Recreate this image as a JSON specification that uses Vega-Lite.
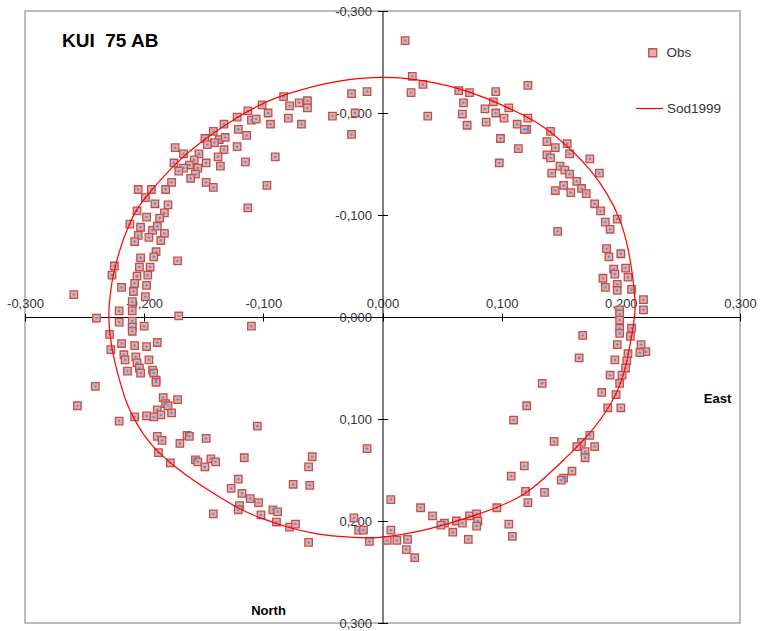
{
  "$schema": "https://vega.github.io/schema/vega-lite/v6.json",
  "width": 715,
  "height": 612,
  "autosize": {"type": "none"},
  "padding": {"left": 25, "top": 11, "right": 28, "bottom": 8},
  "background": "white",
  "title": {"text": "KUI \u00a075 AB", "anchor": "start", "frame": "group", "orient": "top", "offset": 0, "dx": 37, "dy": 61, "baseline": "alphabetic", "font": "Liberation Sans", "fontSize": 19, "fontWeight": "bold", "color": "#000000"},
  "config": {
    "view": {"stroke": "#a6a6a6", "strokeWidth": 1.5},
    "legend": {"labelFont": "Liberation Sans", "labelFontSize": 13.5, "labelColor": "#333333", "padding": 0, "labelLimit": 0}
  },
  "datasets": {
    "obs": [
      {"x":-0.026,"y":-0.219},{"x":-0.013,"y":-0.221},{"x":-0.042,"y":-0.197},{"x":-0.026,"y":-0.179},{"x":-0.023,"y":-0.200},{"x":-0.083,"y":-0.216},{"x":-0.078,"y":-0.207},{"x":-0.070,"y":-0.210},{"x":-0.063,"y":-0.212},{"x":-0.063,"y":-0.205},{"x":-0.079,"y":-0.195},{"x":-0.068,"y":-0.189},{"x":-0.101,"y":-0.208},{"x":-0.096,"y":-0.200},{"x":-0.094,"y":-0.189},{"x":-0.113,"y":-0.202},{"x":-0.110,"y":-0.193},{"x":-0.106,"y":-0.194},{"x":-0.114,"y":-0.178},{"x":-0.115,"y":-0.152},{"x":-0.090,"y":-0.157},{"x":-0.097,"y":-0.129},{"x":-0.113,"y":-0.107},
      {"x":-0.122,"y":-0.196},{"x":-0.121,"y":-0.184},{"x":-0.122,"y":-0.167},{"x":-0.133,"y":-0.189},{"x":-0.142,"y":-0.182},{"x":-0.149,"y":-0.175},{"x":-0.137,"y":-0.174},{"x":-0.132,"y":-0.176},{"x":-0.141,"y":-0.171},{"x":-0.133,"y":-0.164},{"x":-0.138,"y":-0.157},{"x":-0.136,"y":-0.148},{"x":-0.147,"y":-0.169},{"x":-0.174,"y":-0.166},{"x":-0.167,"y":-0.160},{"x":-0.154,"y":-0.160},{"x":-0.158,"y":-0.154},{"x":-0.148,"y":-0.151},{"x":-0.175,"y":-0.151},{"x":-0.162,"y":-0.149},{"x":-0.167,"y":-0.146},{"x":-0.155,"y":-0.146},{"x":-0.171,"y":-0.143},{"x":-0.157,"y":-0.140},{"x":-0.161,"y":-0.136},{"x":-0.148,"y":-0.132},{"x":-0.142,"y":-0.127},{"x":-0.177,"y":-0.132},{"x":-0.182,"y":-0.125},{"x":-0.205,"y":-0.125},{"x":-0.194,"y":-0.125},{"x":-0.199,"y":-0.117},{"x":-0.191,"y":-0.111},{"x":-0.180,"y":-0.110},{"x":-0.206,"y":-0.104},{"x":-0.183,"y":-0.102},{"x":-0.198,"y":-0.098},{"x":-0.187,"y":-0.097},{"x":-0.212,"y":-0.091},{"x":-0.203,"y":-0.088},{"x":-0.193,"y":-0.085},{"x":-0.189,"y":-0.089},{"x":-0.183,"y":-0.082},{"x":-0.205,"y":-0.080},{"x":-0.196,"y":-0.078},{"x":-0.186,"y":-0.075},{"x":-0.208,"y":-0.074},{"x":-0.190,"y":-0.064},{"x":-0.192,"y":-0.059},{"x":-0.203,"y":-0.058},{"x":-0.172,"y":-0.055},{"x":-0.204,"y":-0.049},{"x":-0.195,"y":-0.049},{"x":-0.225,"y":-0.050},{"x":-0.227,"y":-0.041},{"x":-0.206,"y":-0.040},{"x":-0.197,"y":-0.041},{"x":-0.208,"y":-0.033},{"x":-0.198,"y":-0.031},{"x":-0.219,"y":-0.029},{"x":-0.209,"y":-0.025},{"x":-0.199,"y":-0.020},{"x":-0.210,"y":-0.015},{"x":-0.221,"y":-0.006},{"x":-0.210,"y":-0.006},{"x":-0.171,"y":-0.001},{"x":-0.240,"y":0.001},{"x":-0.259,"y":-0.022},
      {"x":0.019,"y":-0.271},{"x":0.025,"y":-0.236},{"x":0.024,"y":-0.220},{"x":0.034,"y":-0.228},{"x":0.038,"y":-0.197},{"x":0.064,"y":-0.222},{"x":0.073,"y":-0.220},{"x":0.068,"y":-0.210},{"x":0.067,"y":-0.199},{"x":0.071,"y":-0.188},{"x":0.095,"y":-0.221},{"x":0.093,"y":-0.211},{"x":0.086,"y":-0.204},{"x":0.095,"y":-0.200},{"x":0.102,"y":-0.195},{"x":0.106,"y":-0.205},{"x":0.087,"y":-0.191},{"x":0.122,"y":-0.227},{"x":0.122,"y":-0.195},{"x":0.113,"y":-0.189},{"x":0.121,"y":-0.184},{"x":0.119,"y":-0.184},{"x":0.099,"y":-0.175},{"x":0.114,"y":-0.165},{"x":0.098,"y":-0.151},{"x":0.141,"y":-0.182},{"x":0.138,"y":-0.172},{"x":0.145,"y":-0.166},{"x":0.155,"y":-0.170},{"x":0.138,"y":-0.159},{"x":0.141,"y":-0.156},{"x":0.157,"y":-0.160},{"x":0.149,"y":-0.148},{"x":0.153,"y":-0.144},{"x":0.157,"y":-0.140},{"x":0.142,"y":-0.141},{"x":0.174,"y":-0.155},{"x":0.182,"y":-0.141},{"x":0.163,"y":-0.133},{"x":0.167,"y":-0.126},{"x":0.171,"y":-0.121},{"x":0.152,"y":-0.129},{"x":0.158,"y":-0.122},{"x":0.145,"y":-0.124},{"x":0.178,"y":-0.111},{"x":0.183,"y":-0.104},{"x":0.187,"y":-0.093},{"x":0.197,"y":-0.096},{"x":0.191,"y":-0.086},{"x":0.147,"y":-0.084},{"x":0.188,"y":-0.067},{"x":0.190,"y":-0.059},{"x":0.200,"y":-0.062},{"x":0.194,"y":-0.047},{"x":0.195,"y":-0.042},{"x":0.204,"y":-0.048},{"x":0.206,"y":-0.039},{"x":0.185,"y":-0.038},{"x":0.187,"y":-0.029},{"x":0.197,"y":-0.032},{"x":0.209,"y":-0.027},{"x":0.197,"y":-0.026},{"x":0.219,"y":-0.017},
      {"x":0.199,"y":-0.007},{"x":0.199,"y":-0.003},{"x":0.199,"y":0.003},{"x":0.219,"y":-0.007},{"x":0.199,"y":0.011},{"x":0.209,"y":0.011},{"x":0.199,"y":0.016},{"x":0.208,"y":0.019},{"x":0.197,"y":0.027},{"x":0.217,"y":0.027},{"x":0.221,"y":0.034},{"x":0.216,"y":0.035},{"x":0.168,"y":0.018},{"x":0.165,"y":0.040},{"x":0.206,"y":0.036},{"x":0.195,"y":0.042},{"x":0.205,"y":0.043},{"x":0.204,"y":0.050},{"x":0.191,"y":0.057},{"x":0.201,"y":0.057},{"x":0.199,"y":0.065},{"x":0.134,"y":0.065},{"x":0.184,"y":0.074},{"x":0.196,"y":0.076},{"x":0.189,"y":0.089},{"x":0.200,"y":0.089},{"x":0.121,"y":0.087},{"x":0.110,"y":0.101},{"x":0.144,"y":0.122},{"x":0.174,"y":0.116},{"x":0.167,"y":0.123},{"x":0.163,"y":0.127},{"x":0.178,"y":0.127},{"x":0.170,"y":0.132},{"x":0.170,"y":0.138},{"x":0.119,"y":0.146},{"x":0.108,"y":0.156},{"x":0.159,"y":0.151},{"x":0.152,"y":0.158},{"x":0.150,"y":0.160},{"x":0.120,"y":0.171},{"x":0.136,"y":0.172},{"x":0.122,"y":0.182},{"x":0.096,"y":0.187},{"x":0.007,"y":0.179},{"x":0.032,"y":0.187},{"x":0.042,"y":0.195},{"x":0.052,"y":0.202},{"x":0.049,"y":0.204},{"x":0.062,"y":0.200},{"x":0.067,"y":0.202},{"x":0.059,"y":0.211},{"x":0.073,"y":0.195},{"x":0.079,"y":0.193},{"x":0.080,"y":0.200},{"x":0.079,"y":0.205},{"x":0.072,"y":0.218},{"x":0.106,"y":0.203},{"x":0.109,"y":0.215},{"x":0.007,"y":0.209},{"x":0.004,"y":0.219},{"x":0.012,"y":0.219},{"x":0.021,"y":0.218},{"x":0.020,"y":0.228},{"x":0.027,"y":0.236},
      {"x":-0.221,"y":0.005},{"x":-0.210,"y":0.004},{"x":-0.210,"y":0.010},{"x":-0.200,"y":0.009},{"x":-0.229,"y":0.017},{"x":-0.228,"y":0.032},{"x":-0.219,"y":0.026},{"x":-0.208,"y":0.028},{"x":-0.198,"y":0.029},{"x":-0.189,"y":0.025},{"x":-0.217,"y":0.037},{"x":-0.216,"y":0.042},{"x":-0.207,"y":0.039},{"x":-0.206,"y":0.045},{"x":-0.196,"y":0.042},{"x":-0.204,"y":0.050},{"x":-0.203,"y":0.055},{"x":-0.214,"y":0.053},{"x":-0.193,"y":0.052},{"x":-0.192,"y":0.055},{"x":-0.190,"y":0.062},{"x":-0.190,"y":0.064},{"x":-0.241,"y":0.068},{"x":-0.256,"y":0.087},{"x":-0.184,"y":0.079},{"x":-0.172,"y":0.081},{"x":-0.182,"y":0.085},{"x":-0.189,"y":0.091},{"x":-0.186,"y":0.096},{"x":-0.177,"y":0.094},{"x":-0.192,"y":0.098},{"x":-0.198,"y":0.097},{"x":-0.208,"y":0.098},{"x":-0.221,"y":0.102},{"x":-0.189,"y":0.117},{"x":-0.185,"y":0.121},{"x":-0.164,"y":0.116},{"x":-0.162,"y":0.117},{"x":-0.170,"y":0.124},{"x":-0.148,"y":0.119},{"x":-0.188,"y":0.133},{"x":-0.178,"y":0.143},{"x":-0.157,"y":0.140},{"x":-0.155,"y":0.142},{"x":-0.149,"y":0.147},{"x":-0.144,"y":0.139},{"x":-0.140,"y":0.142},{"x":-0.116,"y":0.138},{"x":-0.105,"y":0.107},{"x":-0.110,"y":0.009},{"x":-0.059,"y":0.137},{"x":-0.062,"y":0.147},{"x":-0.013,"y":0.129},{"x":-0.121,"y":0.159},{"x":-0.127,"y":0.168},{"x":-0.118,"y":0.173},{"x":-0.111,"y":0.178},{"x":-0.104,"y":0.182},{"x":-0.120,"y":0.185},{"x":-0.121,"y":0.189},{"x":-0.075,"y":0.164},{"x":-0.061,"y":0.165},{"x":-0.142,"y":0.193},{"x":-0.102,"y":0.194},{"x":-0.092,"y":0.189},{"x":-0.088,"y":0.191},{"x":-0.089,"y":0.201},{"x":-0.078,"y":0.206},{"x":-0.073,"y":0.203},{"x":-0.062,"y":0.221},{"x":-0.024,"y":0.197},{"x":-0.020,"y":0.209},{"x":-0.016,"y":0.209},{"x":-0.011,"y":0.220},{"x":-0.180,"y":0.087},{"x":-0.210,"y":0.014}
    ],
    "sod": [
      {"i":1,"x":0.001,"y":-0.236},{"i":2,"x":0.029,"y":-0.233},{"i":3,"x":0.057,"y":-0.227},{"i":4,"x":0.085,"y":-0.216},{"i":5,"x":0.113,"y":-0.201},{"i":6,"x":0.132,"y":-0.190},{"i":7,"x":0.158,"y":-0.165},{"i":8,"x":0.175,"y":-0.144},{"i":9,"x":0.189,"y":-0.121},{"i":10,"x":0.200,"y":-0.095},{"i":11,"x":0.206,"y":-0.069},{"i":12,"x":0.210,"y":-0.041},{"i":13,"x":0.212,"y":-0.017},{"i":14,"x":0.212,"y":-0.004},{"i":15,"x":0.210,"y":0.013},{"i":16,"x":0.207,"y":0.032},{"i":17,"x":0.202,"y":0.062},{"i":18,"x":0.188,"y":0.094},{"i":19,"x":0.169,"y":0.121},{"i":20,"x":0.152,"y":0.140},{"i":21,"x":0.137,"y":0.157},{"i":22,"x":0.119,"y":0.175},{"i":23,"x":0.096,"y":0.187},{"i":24,"x":0.074,"y":0.196},{"i":25,"x":0.057,"y":0.202},{"i":26,"x":0.029,"y":0.211},{"i":27,"x":0.001,"y":0.216},{"i":28,"x":-0.012,"y":0.217},{"i":29,"x":-0.038,"y":0.215},{"i":30,"x":-0.055,"y":0.213},{"i":31,"x":-0.078,"y":0.207},{"i":32,"x":-0.103,"y":0.197},{"i":33,"x":-0.121,"y":0.188},{"i":34,"x":-0.139,"y":0.175},{"i":35,"x":-0.158,"y":0.161},{"i":36,"x":-0.175,"y":0.146},{"i":37,"x":-0.190,"y":0.131},{"i":38,"x":-0.201,"y":0.115},{"i":39,"x":-0.209,"y":0.099},{"i":40,"x":-0.215,"y":0.084},{"i":41,"x":-0.220,"y":0.065},{"i":42,"x":-0.226,"y":0.039},{"i":43,"x":-0.229,"y":0.016},{"i":44,"x":-0.230,"y":-0.002},{"i":45,"x":-0.229,"y":-0.017},{"i":46,"x":-0.227,"y":-0.036},{"i":47,"x":-0.224,"y":-0.051},{"i":48,"x":-0.219,"y":-0.072},{"i":49,"x":-0.212,"y":-0.092},{"i":50,"x":-0.207,"y":-0.105},{"i":51,"x":-0.197,"y":-0.120},{"i":52,"x":-0.174,"y":-0.151},{"i":53,"x":-0.149,"y":-0.175},{"i":54,"x":-0.122,"y":-0.196},{"i":55,"x":-0.100,"y":-0.210},{"i":56,"x":-0.083,"y":-0.218},{"i":57,"x":-0.041,"y":-0.232}
    ]
  },
  "layer": [
    {
      "data": {"name": "obs"},
      "mark": {"type": "square", "size": 56, "stroke": "#c0504d", "strokeWidth": 1.3, "opacity": 1},
      "encoding": {
        "x": {"field": "x", "type": "quantitative", "scale": {"domain": [-0.3, 0.3], "nice": false, "zero": false},
          "axis": {"orient": "top", "offset": -306, "values": [-0.3, -0.2, -0.1, 0, 0.1, 0.2, 0.3],
            "labelExpr": "(datum.value < -0.0001 ? '-' : '') + replace(format(abs(datum.value), '.3f'), '.', ',')",
            "grid": false, "tickSize": 4, "tickColor": "#000000", "domainColor": "#000000", "domainWidth": 1,
            "labelPadding": 3, "labelFont": "Liberation Sans", "labelFontSize": 13, "labelColor": "#333333",
            "labelFlush": false, "labelOverlap": false,
            "title": "East", "titleX": 692, "titleY": 81, "titleAngle": 0, "titleAlign": "center", "titleBaseline": "middle",
            "titleFont": "Liberation Sans", "titleFontSize": 13, "titleFontWeight": "bold", "titleColor": "#000000"}},
        "y": {"field": "y", "type": "quantitative", "scale": {"domain": [-0.3, 0.3], "reverse": true, "nice": false, "zero": false},
          "axis": {"orient": "left", "offset": -357.5, "values": [-0.3, -0.2, -0.1, 0, 0.1, 0.2, 0.3],
            "labelExpr": "(datum.value < -0.0001 ? '-' : '') + replace(format(abs(datum.value), '.3f'), '.', ',')",
            "grid": false, "tickSize": 5, "tickColor": "#000000", "domainColor": "#000000", "domainWidth": 1,
            "labelPadding": 6, "labelFont": "Liberation Sans", "labelFontSize": 13, "labelColor": "#333333",
            "labelFlush": false, "labelOverlap": false,
            "title": "North", "titleX": -114.5, "titleY": 599, "titleAngle": 0, "titleAlign": "center", "titleBaseline": "middle",
            "titleFont": "Liberation Sans", "titleFontSize": 13, "titleFontWeight": "bold", "titleColor": "#000000"}},
        "fill": {"datum": "Obs", "type": "nominal", "scale": {"range": ["#eaa9a9"]},
          "legend": {"orient": "none", "legendX": 621, "legendY": 35, "title": null, "symbolType": "square", "symbolSize": 64,
            "symbolStrokeColor": "#c0504d", "symbolStrokeWidth": 1.3, "labelOffset": 7}}
      }
    },
    {
      "data": {"name": "obs"},
      "mark": {"type": "circle", "size": 6, "color": "#2aa6e2", "opacity": 1},
      "encoding": {
        "x": {"field": "x", "type": "quantitative", "scale": {"domain": [-0.3, 0.3], "nice": false, "zero": false}, "axis": null},
        "y": {"field": "y", "type": "quantitative", "scale": {"domain": [-0.3, 0.3], "reverse": true, "nice": false, "zero": false}, "axis": null}
      }
    },
    {
      "data": {"name": "sod"},
      "mark": {"type": "line", "strokeWidth": 1.2, "interpolate": "basis-closed"},
      "encoding": {
        "x": {"field": "x", "type": "quantitative", "scale": {"domain": [-0.3, 0.3], "nice": false, "zero": false},
          "axis": {"orient": "bottom", "offset": -306, "values": [-0.3, -0.2, -0.1, 0, 0.1, 0.2, 0.3], "labels": false, "domain": false, "grid": false, "tickSize": 4, "tickColor": "#000000", "title": null}},
        "y": {"field": "y", "type": "quantitative", "scale": {"domain": [-0.3, 0.3], "reverse": true, "nice": false, "zero": false},
          "axis": {"orient": "right", "offset": -357.5, "values": [-0.3, -0.2, -0.1, 0, 0.1, 0.2, 0.3], "labels": false, "domain": false, "grid": false, "tickSize": 5, "tickColor": "#000000", "title": null}},
        "order": {"field": "i", "type": "quantitative"},
        "stroke": {"datum": "Sod1999", "type": "nominal", "scale": {"range": ["#ff0000"]},
          "legend": {"orient": "none", "legendX": 610, "legendY": 83, "title": null, "symbolType": "stroke", "symbolSize": 729,
            "symbolStrokeWidth": 1.2, "labelOffset": 3}}
      }
    }
  ],
  "resolve": {"axis": {"x": "independent", "y": "independent"}}
}
